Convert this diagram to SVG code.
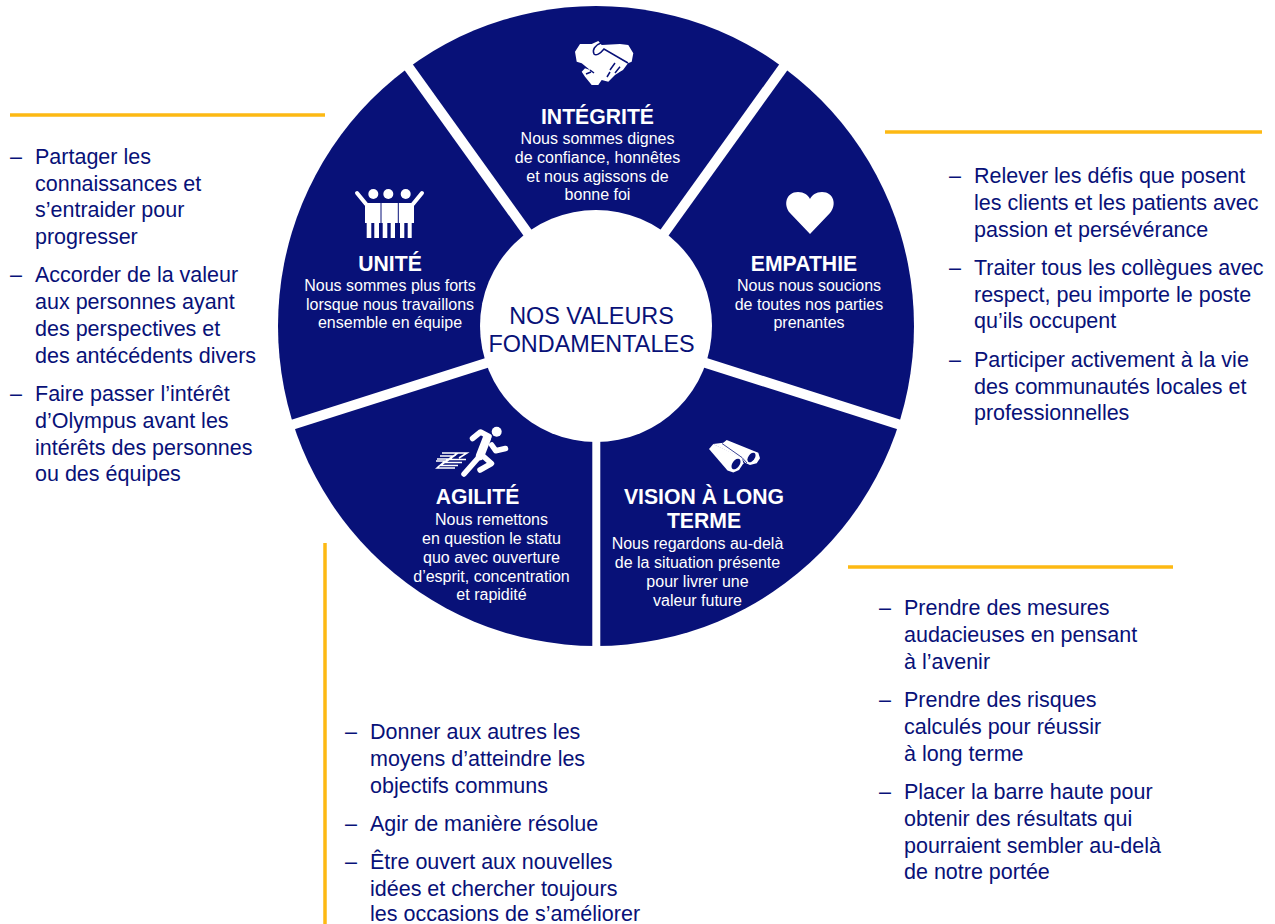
<svg xmlns="http://www.w3.org/2000/svg" width="1275" height="924" viewBox="0 0 1275 924">
<style>
text{font-family:"Liberation Sans",Arial,sans-serif}
.t{fill:#fff;font-size:21.2px;font-weight:700;text-anchor:middle}
.b{fill:#fff;font-size:16px;text-anchor:middle}
.s{fill:#081178;font-size:21.5px}
.o{stroke:#fdb913;stroke-width:3.5;fill:none}
.w{stroke:#fff;stroke-width:10;fill:none}
.i{fill:#fff}
.n{stroke:#081178;fill:none;stroke-width:1.5}
.l{stroke:#fff;fill:none;stroke-linecap:round;stroke-linejoin:round}
</style>
<rect width="1275" height="924" fill="#fff"/>
<ellipse cx="596" cy="326" rx="318" ry="320" fill="#081178"/>
<g id="connectors">
<line class="w" style="stroke-width:8" x1="596.3" y1="328" x2="596.3" y2="650"/>
<line class="w" x1="596" y1="328" x2="402" y2="58"/>
<line class="w" x1="596" y1="328" x2="790" y2="58"/>
<line class="w" x1="596" y1="328" x2="282" y2="428"/>
<line class="w" x1="596" y1="328" x2="910" y2="428"/>
</g>
<g id="centre">
<circle cx="596" cy="326" r="116" fill="#fff"/>
<text x="591.5" y="324" font-size="23.4" fill="#081178" text-anchor="middle">NOS VALEURS</text>
<text x="591.5" y="352" font-size="23.4" fill="#081178" text-anchor="middle">FONDAMENTALES</text>
</g>
<g id="integrite">
<path class="i" d="M575 51.7 L580 44 L591.7 44 L598.3 41 L601.7 45 L620 44 L628.3 45 L633.3 53.3 L631.7 61.7 L628 63.3 L623 70 L620 71.7 L615 75 L608.3 81.7 L601.7 80 L598.3 85 L591.7 85 L585 76.7 L581.7 71.7 L585 68.3 L590 70 L581.7 63.3 L576.7 61.7 Z"/>
<path class="n" d="M601 43 C595 45 592 50 594 54 C596 56 600 54 604 49 L628 63"/>
<path class="n" d="M615 63 L610 70 M620 66.7 L615 73 M610 72 L607 77 M590 70 L594 73 M586 74 L591 72"/>
<text class="t" x="597.5" y="123.5">INTÉGRITÉ</text>
<text class="b" x="597.5" y="143.5">Nous sommes dignes</text>
<text class="b" x="597.5" y="162.5">de confiance, honnêtes</text>
<text class="b" x="597.5" y="181.5">et nous agissons de</text>
<text class="b" x="597.5" y="199.5">bonne foi</text>
</g>
<g id="empathie">
<path class="i" d="M810 234 L790 213 C783 205 786 192 798 192 C804 192 808 195 810 199 C812 195 816 192 822 192 C834 192 837 205 830 213 Z"/>
<text class="t" x="804" y="271">EMPATHIE</text>
<text class="b" x="809" y="290.5">Nous nous soucions</text>
<text class="b" x="809" y="309.5">de toutes nos parties</text>
<text class="b" x="809" y="327.5">prenantes</text>
</g>
<g id="unite">
<circle class="i" cx="373.3" cy="194" r="5"/><circle class="i" cx="388.3" cy="194" r="5"/><circle class="i" cx="405.7" cy="194" r="5"/>
<path d="M357 193 L366 204 M422 193 L413 204" stroke="#fff" stroke-width="4" stroke-linecap="round"/>
<rect class="i" x="365" y="203" width="49" height="20"/>
<path class="i" d="M366.7 222h4.6v16h-4.6zM374.3 222h4.7v16h-4.7zM382.7 222h4.6v16h-4.6zM390.7 222h4.3v16h-4.3zM400 222h4.3v16H400zM407.7 222h4v16h-4z"/>
<path d="M381 203V223M398.3 203V223" stroke="#081178" stroke-width="1"/>
<text class="t" x="390" y="270.5">UNITÉ</text>
<text class="b" x="390" y="290.5">Nous sommes plus forts</text>
<text class="b" x="390" y="309.5">lorsque nous travaillons</text>
<text class="b" x="390" y="327.5">ensemble en équipe</text>
</g>
<g id="agilite">
<circle class="i" cx="496.7" cy="431.7" r="5"/>
<path class="l" stroke-width="5.5" d="M472.5 438.5 L480.5 432 L489 436.5 M491.7 445 L495.7 450.7 L505.5 448.5 M483 456 L491.5 463.5 L480 470 M479 457 L464 474"/>
<path class="l" stroke-width="8.5" d="M487 438 L480 456"/>
<path stroke="#fff" fill="none" stroke-width="1.5" d="M442 453 H458 L448 459.5 H466 M440 456 H454 L444 462.5 H462 M437 459 H450 L440 465.5 H458 M436 461 H445 L437 468 H455 M458 453 H467 L459 458"/>
<text class="t" x="477.5" y="503.5">AGILITÉ</text>
<text class="b" x="491.5" y="524.5">Nous remettons</text>
<text class="b" x="491.5" y="543.5">en question le statu</text>
<text class="b" x="491.5" y="562.5">quo avec ouverture</text>
<text class="b" x="491.5" y="581.5">d’esprit, concentration</text>
<text class="b" x="491.5" y="599.5">et rapidité</text>
</g>
<g id="vision">
<path class="i" d="M713 444 L723.3 442.7 L726.7 440 L758.3 452.7 L760 458.3 L756.7 463.3 L750 465 L745 462.7 L741.7 458.3 Z"/>
<path class="i" d="M709 449 L713.3 444 L741.7 457.5 L743.5 463.3 L739 470 L733.3 472.5 L727.5 470.5 Z"/>
<path class="n" style="stroke-width:.8" d="M722 443.5 L742 457.5 L747 463"/>
<ellipse cx="736" cy="464" rx="3.6" ry="6" transform="rotate(35 736 464)" fill="#081178"/>
<ellipse cx="751.5" cy="457.5" rx="3.2" ry="5.4" transform="rotate(35 751.5 457.5)" fill="#081178"/>
<text class="t" x="704" y="503.5">VISION À LONG</text>
<text class="t" x="704" y="527.5">TERME</text>
<text class="b" x="697.5" y="548.5">Nous regardons au-delà</text>
<text class="b" x="697.5" y="567.5">de la situation présente</text>
<text class="b" x="697.5" y="586.5">pour livrer une</text>
<text class="b" x="697.5" y="605.5">valeur future</text>
</g>
<g id="liste-unite">
<line class="o" x1="10" y1="115" x2="325" y2="115"/>
<text class="s" x="10" y="164">–</text><text class="s" x="35" y="164">Partager les</text>
<text class="s" x="35" y="190.5">connaissances et</text>
<text class="s" x="35" y="217">s’entraider pour</text>
<text class="s" x="35" y="244">progresser</text>
<text class="s" x="10" y="282">–</text><text class="s" x="35" y="282">Accorder de la valeur</text>
<text class="s" x="35" y="309">aux personnes ayant</text>
<text class="s" x="35" y="336">des perspectives et</text>
<text class="s" x="35" y="362.5">des antécédents divers</text>
<text class="s" x="10" y="401">–</text><text class="s" x="35" y="401">Faire passer l’intérêt</text>
<text class="s" x="35" y="428">d’Olympus avant les</text>
<text class="s" x="35" y="454.5">intérêts des personnes</text>
<text class="s" x="35" y="481">ou des équipes</text>
</g>
<g id="liste-empathie">
<line class="o" x1="885" y1="132" x2="1262" y2="132"/>
<text class="s" x="949" y="183">–</text><text class="s" x="974" y="183">Relever les défis que posent</text>
<text class="s" x="974" y="210">les clients et les patients avec</text>
<text class="s" x="974" y="236.5">passion et persévérance</text>
<text class="s" x="949" y="275">–</text><text class="s" x="974" y="275">Traiter tous les collègues avec</text>
<text class="s" x="974" y="301.5">respect, peu importe le poste</text>
<text class="s" x="974" y="328">qu’ils occupent</text>
<text class="s" x="949" y="367">–</text><text class="s" x="974" y="367">Participer activement à la vie</text>
<text class="s" x="974" y="393.5">des communautés locales et</text>
<text class="s" x="974" y="420">professionnelles</text>
</g>
<g id="liste-vision">
<line class="o" x1="848" y1="567" x2="1173" y2="567"/>
<text class="s" x="879" y="615">–</text><text class="s" x="904" y="615">Prendre des mesures</text>
<text class="s" x="904" y="642">audacieuses en pensant</text>
<text class="s" x="904" y="668.5">à l’avenir</text>
<text class="s" x="879" y="707">–</text><text class="s" x="904" y="707">Prendre des risques</text>
<text class="s" x="904" y="734">calculés pour réussir</text>
<text class="s" x="904" y="760.5">à long terme</text>
<text class="s" x="879" y="799">–</text><text class="s" x="904" y="799">Placer la barre haute pour</text>
<text class="s" x="904" y="826">obtenir des résultats qui</text>
<text class="s" x="904" y="852.5">pourraient sembler au-delà</text>
<text class="s" x="904" y="879">de notre portée</text>
</g>
<g id="liste-agilite">
<line class="o" x1="325" y1="543" x2="325" y2="924"/>
<text class="s" x="345" y="739">–</text><text class="s" x="370" y="739">Donner aux autres les</text>
<text class="s" x="370" y="766">moyens d’atteindre les</text>
<text class="s" x="370" y="792.5">objectifs communs</text>
<text class="s" x="345" y="831">–</text><text class="s" x="370" y="831">Agir de manière résolue</text>
<text class="s" x="345" y="869">–</text><text class="s" x="370" y="869">Être ouvert aux nouvelles</text>
<text class="s" x="370" y="896">idées et chercher toujours</text>
<text class="s" x="370" y="921">les occasions de s’améliorer</text>
</g>
</svg>
